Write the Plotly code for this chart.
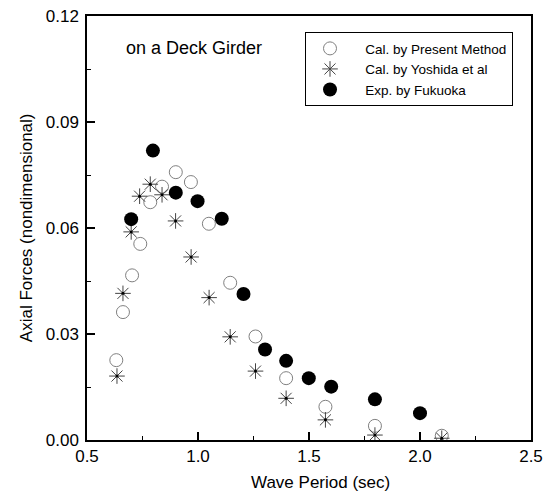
import plotly.graph_objects as go

# Data
present_x = [0.632, 0.662, 0.703, 0.740, 0.785, 0.838, 0.900, 0.968, 1.049, 1.145, 1.259, 1.397, 1.574, 1.797, 2.098]
present_y = [0.0226, 0.0362, 0.0466, 0.0555, 0.0673, 0.0717, 0.0758, 0.0730, 0.0612, 0.0445, 0.0293, 0.0175, 0.0094, 0.0040, 0.0012]

yoshida_x = [0.635, 0.662, 0.699, 0.737, 0.785, 0.838, 0.899, 0.969, 1.050, 1.145, 1.259, 1.397, 1.574, 1.797, 2.098]
yoshida_y = [0.0181, 0.0415, 0.0589, 0.0690, 0.0724, 0.0694, 0.0620, 0.0518, 0.0403, 0.0292, 0.0195, 0.0118, 0.0057, 0.0014, 0.0005]

fukuoka_x = [0.699, 0.797, 0.900, 0.998, 1.107, 1.205, 1.302, 1.397, 1.499, 1.600, 1.797, 2.000]
fukuoka_y = [0.0625, 0.0819, 0.0700, 0.0676, 0.0626, 0.0413, 0.0256, 0.0224, 0.0175, 0.0151, 0.0115, 0.0076]

x_ticks = [0.5, 1.0, 1.5, 2.0, 2.5]
y_ticks = [0.00, 0.03, 0.06, 0.09, 0.12]

FONT = "Liberation Sans, Arial, sans-serif"
PAD = "\u00a0\u00a0\u00a0"

fig = go.Figure()
fig.add_trace(go.Scatter(
    x=present_x, y=present_y, mode="markers", name=PAD + "Cal. by Present Method",
    marker=dict(symbol="circle-open", size=13, color="#808080", line=dict(width=1, color="#808080")),
))
fig.add_trace(go.Scatter(
    x=yoshida_x, y=yoshida_y, mode="markers", name=PAD + "Cal. by Yoshida et al",
    marker=dict(symbol="asterisk-open", size=13, color="#444444", line=dict(width=1, color="#444444")),
))
fig.add_trace(go.Scatter(
    x=yoshida_x, y=yoshida_y, mode="markers", showlegend=False, hoverinfo="skip",
    marker=dict(symbol="circle", size=3, color="black"),
))
fig.add_trace(go.Scatter(
    x=fukuoka_x, y=fukuoka_y, mode="markers", name=PAD + "Exp. by Fukuoka",
    marker=dict(symbol="circle", size=14, color="black"),
))

axis_common = dict(
    showline=True, linecolor="black", linewidth=1.5, mirror=True,
    ticks="inside", ticklen=8, tickwidth=1.5, tickcolor="black",
    showgrid=False, zeroline=False, automargin=False,
    tickfont=dict(family=FONT, size=17, color="black"),
)

fig.update_xaxes(
    range=[0.5, 2.5], tickvals=x_ticks, ticktext=[f"{v:.1f}" for v in x_ticks],
    minor=dict(ticks="inside", ticklen=4, tickwidth=1, tickcolor="black", dtick=0.25, tick0=0.5, showgrid=False),
    **axis_common,
)
fig.update_yaxes(
    range=[0, 0.12], tickvals=y_ticks, ticktext=[f"{v:.2f}" for v in y_ticks],
    minor=dict(ticks="inside", ticklen=4, tickwidth=1, tickcolor="black", dtick=0.015, tick0=0, showgrid=False),
    ticklabelstandoff=3,
    **axis_common,
)

# Axis titles
fig.add_annotation(
    x=0.525, y=-0.101, xref="paper", yref="paper", xanchor="center", yanchor="middle",
    text="Wave Period (sec)", showarrow=False,
    font=dict(family=FONT, size=17, color="black"),
)
fig.add_annotation(
    x=-0.137, y=0.5, xref="paper", yref="paper", xanchor="center", yanchor="middle",
    text="Axial Forces (nondimensional)", showarrow=False, textangle=-90,
    font=dict(family=FONT, size=17, color="black"),
)

fig.add_annotation(
    x=0.084, y=0.925, xref="paper", yref="paper", xanchor="left", yanchor="middle",
    text="on a Deck Girder", showarrow=False,
    font=dict(family=FONT, size=18, color="black"),
)

fig.update_layout(
    width=550, height=495,
    margin=dict(l=87, r=19, t=16, b=55, autoexpand=False),
    paper_bgcolor="white", plot_bgcolor="white",
    showlegend=True,
    legend=dict(
        x=0.491, y=0.962, xanchor="left", yanchor="top",
        bgcolor="white", bordercolor="black", borderwidth=1,
        font=dict(family=FONT, size=13.5, color="black"),
        itemwidth=38, tracegroupgap=0,
    ),
    font=dict(family=FONT, color="black"),
)

fig.write_html(
    "out.html",
    config={"displayModeBar": False},
    post_script="document.body.style.margin='0';document.body.style.padding='0';",
)
